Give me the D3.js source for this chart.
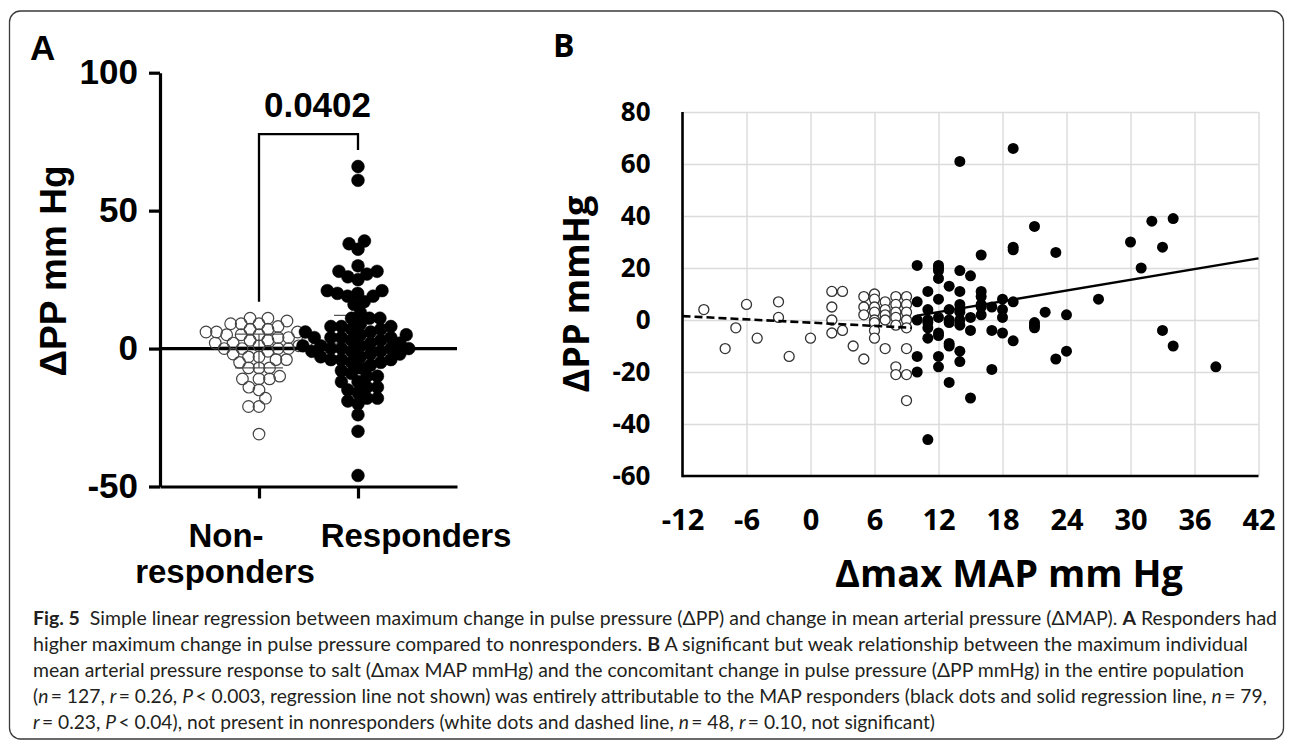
<!DOCTYPE html>
<html>
<head>
<meta charset="utf-8">
<script src="https://cdn.jsdelivr.net/npm/d3@7"></script>
<style>
    body { margin: 0; background: #fff; }
    svg { display: block; }
</style>
</head>
<body>
<svg id="fig" width="1292" height="742"></svg>
<script>
"use strict";

// ΔMAP (x) and ΔPP (y) per subject
var nonResponders = [
    [-10, 4], [-8, -11], [-7, -3], [-6, 6], [-5, -7], [-3, 7], [-3, 1], [-2, -14], [0, -7],
    [2, 11], [2, 5], [2, 0], [2, -5], [3, 11], [3, -4], [4, -10],
    [5, 9], [5, 5], [5, 2], [5, -15],
    [6, 10], [6, 8], [6, 5], [6, 3], [6, 0], [6, -1], [6, -4], [6, -7],
    [7, 7], [7, 4], [7, 2], [7, 0], [7, -11],
    [8, 9], [8, 6], [8, 3], [8, 1], [8, -2], [8, -18], [8, -21],
    [9, 9], [9, 6], [9, 3], [9, 0], [9, -3], [9, -11], [9, -21], [9, -31]
];
var responders = [
    [10, 21], [10, 7], [10, 0], [10, -14], [10, -20],
    [11, 11], [11, 4], [11, 0], [11, -1], [11, -3], [11, -7], [11, -46],
    [12, 21], [12, 20], [12, 19], [12, 16], [12, 8], [12, 1], [12, -5], [12, -6], [12, -14], [12, -18],
    [13, 13], [13, 4], [13, 0], [13, -1], [13, -9], [13, -10], [13, -24],
    [14, 61], [14, 19], [14, 11], [14, 6], [14, 4], [14, 3], [14, 0], [14, -2], [14, -12], [14, -16],
    [15, 17], [15, 1], [15, -4], [15, -30],
    [16, 25], [16, 11], [16, 9], [16, 6], [16, 5], [16, 2],
    [17, 5], [17, -4], [17, -19],
    [18, 8], [18, 4], [18, 1], [18, -5],
    [19, 66], [19, 28], [19, 27], [19, 7], [19, -8],
    [21, 36], [21, -1], [21, -2], [21, -3],
    [22, 3], [23, 26], [23, -15], [24, 2], [24, -12], [27, 8],
    [30, 30], [31, 20], [32, 38], [33, 28], [33, -4], [34, 39], [34, -10], [38, -18]
];

// regression lines (end points)
var nonRespLine = [[-12, 1.5], [9.5, -3]];
var respLine = [[10, 1.7], [42, 23.7]];

var groups = ["Non-responders", "Responders"];
var pValue = "0.0402";
var aTicks = [-50, 0, 50, 100];
var bXTicks = [-12, -6, 0, 6, 12, 18, 24, 30, 36, 42];
var bYTicks = [-60, -40, -20, 0, 20, 40, 60, 80];

var caption = [
    [["Fig. 5", "b"], ["  Simple linear regression between maximum change in pulse pressure (ΔPP) and change in mean arterial pressure (ΔMAP). ", ""], ["A", "b"], [" Responders had", ""]],
    [["higher maximum change in pulse pressure compared to nonresponders. ", ""], ["B", "b"], [" A significant but weak relationship between the maximum individual", ""]],
    [["mean arterial pressure response to salt (Δmax MAP mmHg) and the concomitant change in pulse pressure (ΔPP mmHg) in the entire population", ""]],
    [["(", ""], ["n", "i"], ["\u2009= 127, ", ""], ["r", "i"], ["\u2009= 0.26, ", ""], ["P", "i"], ["\u2009< 0.003, regression line not shown) was entirely attributable to the MAP responders (black dots and solid regression line, ", ""], ["n", "i"], ["\u2009= 79,", ""]],
    [["r", "i"], ["\u2009= 0.23, ", ""], ["P", "i"], ["\u2009< 0.04), not present in nonresponders (white dots and dashed line, ", ""], ["n", "i"], ["\u2009= 48, ", ""], ["r", "i"], ["\u2009= 0.10, not significant)", ""]]
];
var captionWidths = [1244, 1215, 1211, 1234, 902];

var svg = d3.select("#fig");
var fontA = "'Liberation Sans', Arial, sans-serif";
var fontB = "'Open Sans', 'Noto Sans', sans-serif";

// page frame
svg.append("rect")
    .attr("x", 9.5).attr("y", 11)
    .attr("width", 1274).attr("height", 728)
    .attr("rx", 11)
    .attr("fill", "none")
    .attr("stroke", "#3a3a3a")
    .attr("stroke-width", 1.3);

drawPanelA();
drawPanelB();
drawCaption();

function drawPanelA() {
    var g = svg.append("g").attr("font-family", fontA).attr("font-weight", "bold"),
        y = d3.scaleLinear().domain([-50, 100]).range([486.5, 72.7]),
        x = d3.scalePoint().domain(groups).range([160, 457]).padding(1),
        r = 6.4,
        sets = [
            nonResponders.map(function (d) { return d[1]; }),
            responders.map(function (d) { return d[1]; })
        ];

    g.append("text")
        .attr("x", 30).attr("y", 60)
        .attr("font-size", 35)
        .text("A");

    g.append("g")
        .attr("transform", "translate(160,0)")
        .call(d3.axisLeft(y).tickValues(aTicks).tickSize(11).tickSizeOuter(0)
            .tickPadding(11)
            .tickFormat(function (d) { return String(d); }))
        .call(function (a) {
            a.select(".domain").attr("stroke", "#000").attr("stroke-width", 3.2);
            a.selectAll(".tick line").attr("stroke", "#000").attr("stroke-width", 3.2);
            a.selectAll(".tick text").attr("font-size", 35).attr("font-family", fontA)
                .attr("font-weight", "bold").attr("fill", "#000");
        });

    g.append("g")
        .attr("transform", "translate(0," + y(-50) + ")")
        .call(d3.axisBottom(x).tickSize(12).tickSizeOuter(0).tickFormat(""))
        .call(function (a) {
            a.select(".domain").attr("stroke", "#000").attr("stroke-width", 3.2);
            a.selectAll(".tick line").attr("stroke", "#000").attr("stroke-width", 3.2);
        });

    g.append("text")
        .attr("transform", "translate(66,271) rotate(-90)")
        .attr("text-anchor", "middle")
        .attr("font-size", 37)
        .text("ΔPP mm Hg");

    // category labels
    g.append("text").attr("x", x(groups[0]) - 33).attr("y", 547)
        .attr("text-anchor", "middle").attr("font-size", 33).text("Non-");
    g.append("text").attr("x", x(groups[0]) - 34).attr("y", 583)
        .attr("text-anchor", "middle").attr("font-size", 33).text("responders");
    g.append("text").attr("x", x(groups[1]) + 58).attr("y", 547)
        .attr("text-anchor", "middle").attr("font-size", 33).text("Responders");

    // median and interquartile range
    sets.forEach(function (vals, i) {
        var s = vals.slice().sort(d3.ascending),
            cx = x(groups[i]),
            q1 = d3.quantile(s, 0.25),
            q2 = d3.quantile(s, 0.5),
            q3 = d3.quantile(s, 0.75),
            lg = g.append("g").attr("stroke", "#555").attr("stroke-width", 1.3);
        lg.append("line").attr("x1", cx).attr("x2", cx).attr("y1", y(q1)).attr("y2", y(q3));
        lg.append("line").attr("x1", cx - 24).attr("x2", cx + 24).attr("y1", y(q1)).attr("y2", y(q1));
        lg.append("line").attr("x1", cx - 24).attr("x2", cx + 24).attr("y1", y(q3)).attr("y2", y(q3));
        lg.append("line").attr("x1", cx - 40).attr("x2", cx + 40).attr("y1", y(q2)).attr("y2", y(q2));
    });

    // zero line
    g.append("line")
        .attr("x1", 160).attr("x2", 457)
        .attr("y1", y(0)).attr("y2", y(0))
        .attr("stroke", "#000").attr("stroke-width", 3.2);

    sets.forEach(function (vals, i) {
        var pts = swarm(vals, y, 10.5);
        g.append("g").selectAll("circle")
            .data(pts).enter().append("circle")
            .attr("cx", function (d) { return x(groups[i]) + d.dx; })
            .attr("cy", function (d) { return d.y; })
            .attr("r", i === 0 ? r - 0.6 : r)
            .attr("fill", i === 0 ? "none" : "#000")
            .attr("stroke", i === 0 ? "#444" : "#000")
            .attr("stroke-width", i === 0 ? 1.2 : 0.5);
    });

    // significance bracket
    var leftEnd = d3.max(sets[0]) + 6,
        rightEnd = d3.max(sets[1]) + 6,
        top = rightEnd + 5.7;
    g.append("path")
        .attr("d", "M" + x(groups[0]) + "," + y(leftEnd) + "V" + y(top) +
            "H" + x(groups[1]) + "V" + y(rightEnd))
        .attr("fill", "none").attr("stroke", "#000").attr("stroke-width", 2.3);
    g.append("text")
        .attr("x", (x(groups[0]) + x(groups[1])) / 2 + 9)
        .attr("y", 117)
        .attr("text-anchor", "middle")
        .attr("font-size", 35)
        .text(pValue);
}

// simple beeswarm: each dot goes to the free spot closest to the centre
function swarm(vals, y, dist) {
    var placed = [];
    vals.slice().sort(d3.ascending).forEach(function (v) {
        var py = y(v),
            blocked = [],
            cands = [0],
            dx;
        placed.forEach(function (p) {
            var dy = Math.abs(p.y - py), w;
            if (dy < dist) {
                w = Math.sqrt(dist * dist - dy * dy);
                blocked.push([p.dx - w, p.dx + w]);
                cands.push(p.dx - w, p.dx + w);
            }
        });
        cands.sort(function (a, b) { return Math.abs(a) - Math.abs(b); });
        dx = cands.find(function (c) {
            return blocked.every(function (b) {
                return c <= b[0] + 1e-6 || c >= b[1] - 1e-6;
            });
        });
        placed.push({ v: v, y: py, dx: dx });
    });
    return placed;
}

function drawPanelB() {
    var g = svg.append("g").attr("font-family", fontB).attr("font-weight", 700),
        x = d3.scaleLinear().domain([-12, 42]).range([682.5, 1258.5]),
        y = d3.scaleLinear().domain([-60, 80]).range([476, 112]),
        w = x.range()[1] - x.range()[0],
        h = y.range()[0] - y.range()[1],
        line = d3.line()
            .x(function (d) { return x(d[0]); })
            .y(function (d) { return y(d[1]); });

    g.append("text")
        .attr("x", 553).attr("y", 57)
        .attr("font-size", 32)
        .text("B");

    // grid
    g.append("g")
        .attr("transform", "translate(0," + y(-60) + ")")
        .call(d3.axisBottom(x).tickValues(bXTicks).tickSize(-h).tickFormat(""))
        .call(function (a) {
            a.select(".domain").remove();
            a.selectAll(".tick line").attr("stroke", "#dcdcdc").attr("stroke-width", 1.5);
        });
    g.append("g")
        .attr("transform", "translate(" + x(-12) + ",0)")
        .call(d3.axisLeft(y).tickValues(bYTicks).tickSize(-w).tickFormat(""))
        .call(function (a) {
            a.select(".domain").remove();
            a.selectAll(".tick line").attr("stroke", "#dcdcdc").attr("stroke-width", 1.5);
        });

    // tick labels
    g.append("g")
        .attr("transform", "translate(" + x(-12) + ",0)")
        .call(d3.axisLeft(y).tickValues(bYTicks).tickSize(0).tickPadding(32)
            .tickFormat(function (d) { return String(d); }))
        .call(function (a) {
            a.select(".domain").remove();
            a.selectAll(".tick text").attr("font-size", 26).attr("font-family", fontB)
                .attr("font-weight", 700).attr("fill", "#000");
        });
    g.append("g")
        .attr("transform", "translate(0," + y(-60) + ")")
        .call(d3.axisBottom(x).tickValues(bXTicks).tickSize(0).tickPadding(33)
            .tickFormat(function (d) { return String(d); }))
        .call(function (a) {
            a.select(".domain").remove();
            a.selectAll(".tick text").attr("font-size", 29).attr("font-family", fontB)
                .attr("font-weight", 700).attr("fill", "#000");
        });

    // axis lines
    g.append("line")
        .attr("x1", x(-12)).attr("x2", x(-12))
        .attr("y1", y(80)).attr("y2", y(-60) + 1.2)
        .attr("stroke", "#000").attr("stroke-width", 2.6);
    g.append("line")
        .attr("x1", x(-12)).attr("x2", x(42))
        .attr("y1", y(-60)).attr("y2", y(-60))
        .attr("stroke", "#000").attr("stroke-width", 2.6);

    // axis titles
    g.append("text")
        .attr("transform", "translate(589," + (y(80) + y(-60)) / 2 + ") rotate(-90)")
        .attr("text-anchor", "middle")
        .attr("font-size", 36)
        .text("ΔPP mmHg");
    g.append("text")
        .attr("x", 1009).attr("y", 587)
        .attr("text-anchor", "middle")
        .attr("font-size", 38)
        .text("Δmax MAP mm Hg");

    // points
    g.append("g").selectAll("circle")
        .data(nonResponders).enter().append("circle")
        .attr("cx", function (d) { return x(d[0]); })
        .attr("cy", function (d) { return y(d[1]); })
        .attr("r", 5)
        .attr("fill", "#fff")
        .attr("stroke", "#333")
        .attr("stroke-width", 1.3);
    g.append("g").selectAll("circle")
        .data(responders).enter().append("circle")
        .attr("cx", function (d) { return x(d[0]); })
        .attr("cy", function (d) { return y(d[1]); })
        .attr("r", 5.5)
        .attr("fill", "#000");

    // regression lines
    g.append("path")
        .attr("d", line(nonRespLine))
        .attr("fill", "none").attr("stroke", "#000")
        .attr("stroke-width", 2.6)
        .attr("stroke-dasharray", "8,4");
    g.append("path")
        .attr("d", line(respLine))
        .attr("fill", "none").attr("stroke", "#000")
        .attr("stroke-width", 2.4);
}

function drawCaption() {
    var g = svg.append("g")
        .attr("font-family", "Lato, 'Open Sans', sans-serif")
        .attr("font-size", 19.5)
        .attr("fill", "#231f20");

    caption.forEach(function (segs, i) {
        var t = g.append("text")
            .attr("x", 33)
            .attr("y", 625 + i * 26)
            .attr("textLength", captionWidths[i])
            .attr("lengthAdjust", "spacingAndGlyphs")
            .attr("xml:space", "preserve");
        segs.forEach(function (s) {
            t.append("tspan")
                .attr("font-weight", s[1] === "b" ? 700 : 400)
                .attr("font-style", s[1] === "i" ? "italic" : "normal")
                .text(s[0]);
        });
    });
}
</script>
</body>
</html>
